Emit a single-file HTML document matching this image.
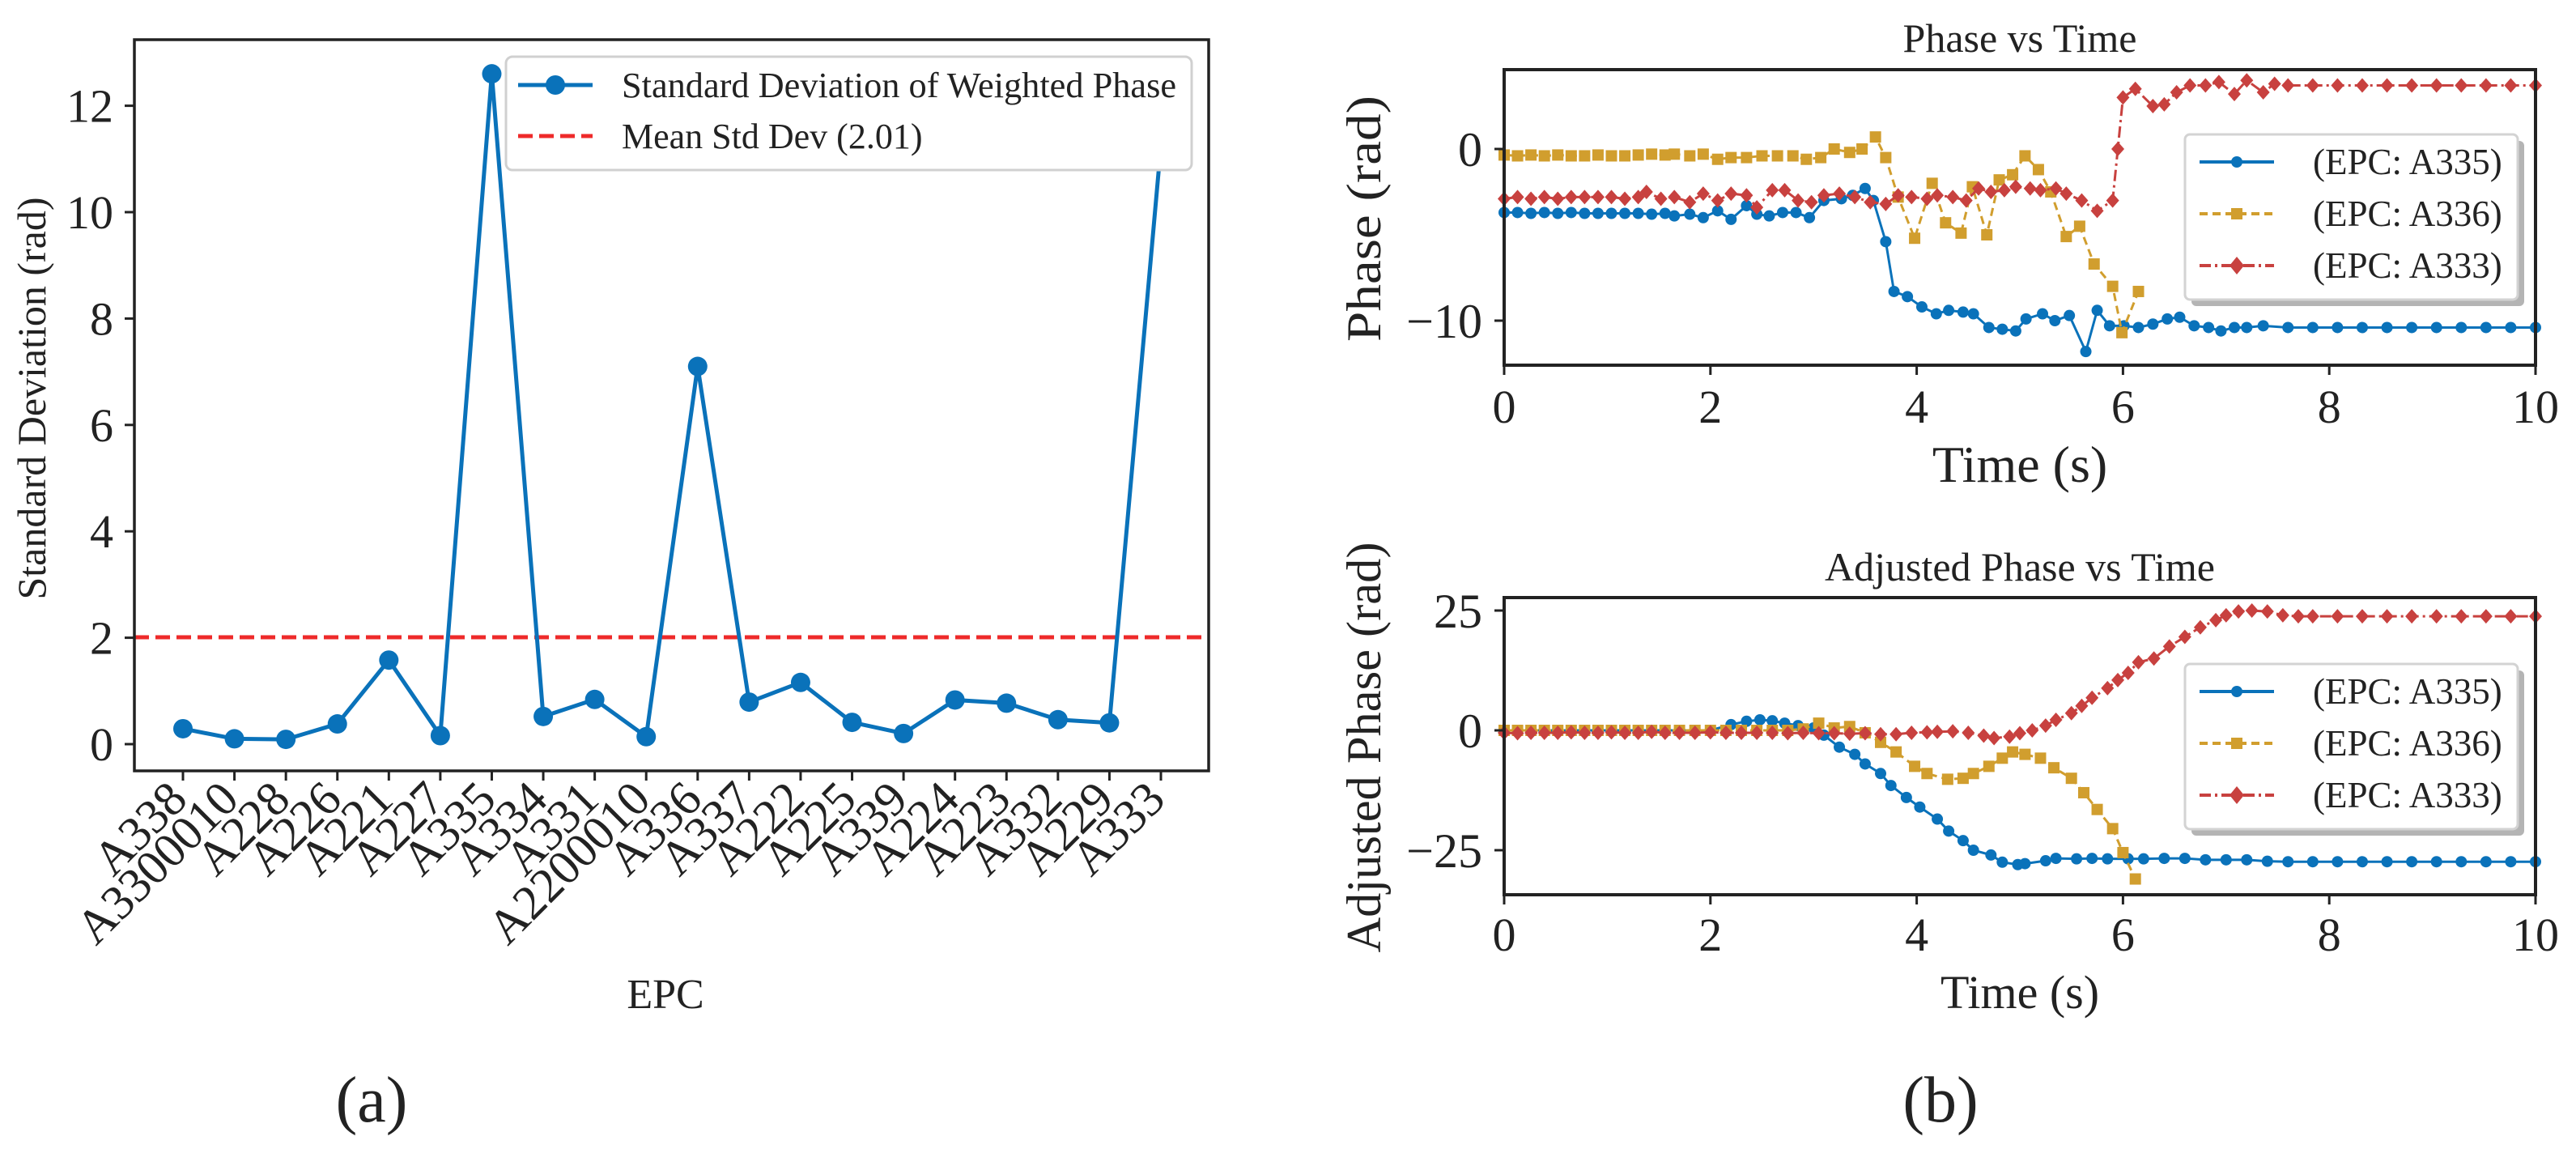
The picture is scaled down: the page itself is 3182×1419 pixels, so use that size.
<!DOCTYPE html>
<html><head><meta charset="utf-8"><style>
html,body{margin:0;padding:0;background:#fff;}
svg{display:block;font-family:"Liberation Serif",serif;}
</style></head><body>
<svg id="fig" width="3182" height="1419" viewBox="0 0 3182 1419" xmlns="http://www.w3.org/2000/svg"></svg>
<script>
// ---------- Panel (a) data ----------
const epcLabels = ["A338","A3300010","A228","A226","A221","A227","A335","A334","A331","A2200010","A336","A337","A222","A225","A339","A224","A223","A332","A229","A333"];
const stdValues = [0.29,0.10,0.09,0.38,1.58,0.16,12.6,0.52,0.84,0.14,7.1,0.79,1.16,0.41,0.20,0.83,0.77,0.46,0.40,11.25];
const meanStd = 2.01;
const stdTicks = [0,2,4,6,8,10,12];
// ---------- Panel (b) top data ----------
const timeTicks = [0,2,4,6,8,10];
const phaseTicks = [0,-10];
const adjTicks = [25,0,-25];
const tA335 = [0,0.13,0.26,0.39,0.52,0.65,0.78,0.91,1.04,1.17,1.3,1.43,1.56,1.65,1.8,1.93,2.07,2.2,2.35,2.45,2.57,2.7,2.83,2.96,3.1,3.27,3.38,3.5,3.58,3.7,3.78,3.91,4.05,4.19,4.31,4.45,4.55,4.7,4.83,4.96,5.06,5.22,5.34,5.48,5.64,5.75,5.87,6.01,6.15,6.29,6.43,6.55,6.69,6.83,6.95,7.08,7.2,7.36,7.6,7.84,8.08,8.32,8.56,8.8,9.04,9.28,9.52,9.76,10.0];
const pA335 = [-3.7,-3.7,-3.75,-3.7,-3.75,-3.7,-3.75,-3.75,-3.75,-3.75,-3.75,-3.8,-3.75,-3.9,-3.8,-4.0,-3.6,-4.1,-3.3,-3.8,-3.9,-3.7,-3.7,-4.0,-3.0,-2.9,-2.7,-2.3,-3.0,-5.4,-8.3,-8.6,-9.2,-9.6,-9.4,-9.5,-9.6,-10.4,-10.5,-10.6,-9.9,-9.6,-10.0,-9.7,-11.8,-9.4,-10.3,-10.3,-10.4,-10.2,-9.9,-9.8,-10.3,-10.4,-10.6,-10.4,-10.4,-10.3,-10.4,-10.4,-10.4,-10.4,-10.4,-10.4,-10.4,-10.4,-10.4,-10.4,-10.4];
const tA336 = [0,0.13,0.26,0.39,0.52,0.65,0.78,0.91,1.04,1.17,1.3,1.43,1.56,1.65,1.8,1.93,2.07,2.2,2.35,2.5,2.65,2.8,2.93,3.07,3.2,3.35,3.47,3.6,3.7,3.82,3.98,4.15,4.28,4.43,4.54,4.68,4.8,4.93,5.05,5.18,5.3,5.45,5.58,5.72,5.9,5.99,6.15];
const pA336 = [-0.35,-0.4,-0.35,-0.4,-0.35,-0.4,-0.4,-0.35,-0.4,-0.4,-0.35,-0.3,-0.35,-0.3,-0.4,-0.3,-0.6,-0.5,-0.5,-0.4,-0.4,-0.4,-0.6,-0.5,0.0,-0.2,0.0,0.7,-0.5,-2.8,-5.2,-2.0,-4.3,-4.9,-2.2,-5.0,-1.8,-1.5,-0.4,-1.2,-2.5,-5.1,-4.5,-6.7,-8.0,-10.7,-8.3];
const tA333 = [0,0.13,0.26,0.39,0.52,0.65,0.78,0.91,1.04,1.17,1.3,1.38,1.52,1.65,1.8,1.93,2.07,2.2,2.35,2.45,2.6,2.72,2.85,2.98,3.1,3.25,3.4,3.55,3.7,3.82,3.95,4.1,4.2,4.35,4.48,4.6,4.72,4.85,4.96,5.1,5.2,5.35,5.45,5.6,5.75,5.9,5.95,6.0,6.12,6.29,6.4,6.52,6.65,6.8,6.93,7.08,7.2,7.36,7.47,7.6,7.84,8.08,8.32,8.56,8.8,9.04,9.28,9.52,9.76,10.0];
const pA333 = [-2.9,-2.8,-2.9,-2.8,-2.9,-2.8,-2.8,-2.8,-2.8,-2.9,-2.8,-2.5,-2.9,-2.8,-3.1,-2.6,-3.0,-2.6,-2.7,-3.4,-2.4,-2.4,-3.0,-3.1,-2.7,-2.6,-2.8,-3.1,-3.2,-2.7,-2.8,-2.9,-2.7,-2.8,-3.0,-2.3,-2.5,-2.4,-2.2,-2.3,-2.4,-2.3,-2.6,-3.0,-3.6,-3.0,0.0,3.0,3.5,2.5,2.6,3.3,3.7,3.7,3.9,3.2,4.0,3.3,3.8,3.7,3.7,3.7,3.7,3.7,3.7,3.7,3.7,3.7,3.7,3.7];
// ---------- Panel (b) bottom data ----------
const tAdj335 = [0,0.13,0.26,0.39,0.52,0.65,0.78,0.91,1.04,1.17,1.3,1.43,1.56,1.7,1.85,2.0,2.2,2.35,2.48,2.6,2.72,2.85,3.0,3.1,3.25,3.4,3.5,3.65,3.75,3.9,4.03,4.2,4.31,4.45,4.55,4.72,4.83,4.98,5.05,5.25,5.35,5.55,5.7,5.85,6.05,6.2,6.4,6.6,6.8,7.0,7.2,7.4,7.6,7.84,8.08,8.32,8.56,8.8,9.04,9.28,9.52,9.76,10.0];
const aA335 = [0,0,0,0,0,0,0,0,0,0,0,0,0,0,0,0,1.2,1.9,2.2,2.0,1.5,1.0,0.5,-1.0,-3.5,-5,-7,-9,-11.5,-14,-16,-18.5,-21,-23,-25,-26,-27.5,-28,-27.8,-27.2,-26.7,-26.8,-26.7,-26.8,-26.8,-26.8,-26.7,-26.7,-27.0,-27.0,-27.0,-27.3,-27.4,-27.4,-27.4,-27.4,-27.4,-27.4,-27.4,-27.4,-27.4,-27.4,-27.4];
const tAdj336 = [0,0.13,0.26,0.39,0.52,0.65,0.78,0.91,1.04,1.17,1.3,1.43,1.56,1.7,1.85,2.0,2.15,2.3,2.45,2.6,2.75,2.9,3.05,3.2,3.35,3.5,3.65,3.8,3.98,4.1,4.3,4.45,4.55,4.7,4.83,4.93,5.05,5.2,5.33,5.5,5.62,5.75,5.9,6.0,6.12];
const aA336 = [0,0,0,0,0,0,0,0,0,0,0,0,0,0,0,0,0,0,0,0,0,0.3,1.5,0.5,0.8,-0.5,-2.5,-4.5,-7.5,-9.0,-10.2,-10,-9,-7.5,-5.8,-4.5,-5.0,-5.8,-7.8,-10,-13,-16.5,-20.5,-25.5,-31];
const tAdj333 = [0,0.13,0.26,0.39,0.52,0.65,0.78,0.91,1.04,1.17,1.3,1.43,1.56,1.7,1.85,2.0,2.15,2.3,2.45,2.6,2.75,2.9,3.05,3.2,3.35,3.5,3.65,3.8,3.95,4.1,4.2,4.35,4.5,4.65,4.75,4.9,5.0,5.12,5.25,5.35,5.5,5.6,5.7,5.85,5.95,6.05,6.15,6.3,6.45,6.6,6.75,6.9,7.0,7.12,7.25,7.4,7.55,7.7,7.84,8.08,8.32,8.56,8.8,9.04,9.28,9.52,9.76,10.0];
const aA333 = [-0.5,-0.6,-0.5,-0.5,-0.5,-0.4,-0.5,-0.5,-0.4,-0.5,-0.5,-0.3,-0.5,-0.5,-0.5,-0.4,-0.5,-0.5,-0.5,-0.5,-0.6,-0.5,-0.6,-0.6,-0.7,-0.6,-0.8,-0.8,-0.5,-0.4,-0.3,-0.2,-0.5,-1.1,-1.6,-1.3,-0.6,0,1,2.2,3.6,5.1,6.8,8.8,10.5,12,14.2,15,17.5,19.5,21.5,23,24,24.8,25,24.8,24,23.8,23.8,23.8,23.8,23.8,23.8,23.8,23.8,23.8,23.8,23.8];

const NS="http://www.w3.org/2000/svg";
const svg=document.getElementById('fig');
function mk(tag,attrs,parent){const e=document.createElementNS(NS,tag);for(const k in attrs)e.setAttribute(k,attrs[k]);(parent||svg).appendChild(e);return e;}
function txt(s,attrs,parent){const e=mk('text',attrs,parent);e.textContent=s;return e;}
const BLUE="#0a72ba",GOLD="#d19e2e",RED="#c8413f";

// ================= Panel (a) =================
const A={x0:166,x1:1493,y0:49,y1:952};
const ay=v=>919-v*65.7;
const ax=i=>226+i*(1434-226)/19;
const ga=mk('g',{});


const ml=mk('line',{x1:A.x0,x2:A.x1,y1:ay(meanStd),y2:ay(meanStd),stroke:"#ee2a2a","stroke-width":5,"stroke-dasharray":"18,8"},ga);


const pl=mk('polyline',{points:stdValues.map((v,i)=>ax(i)+","+ay(v)).join(" "),fill:"none",stroke:BLUE,"stroke-width":5},ga);


stdValues.forEach((v,i)=>{
  const c=mk('circle',{cx:ax(i),cy:ay(v),r:12,fill:i===stdValues.length-1?"#c9d6ec":BLUE},ga);
  
  
});
mk('rect',{x:A.x0,y:A.y0,width:A.x1-A.x0,height:A.y1-A.y0,fill:"none",stroke:"#222","stroke-width":3.5},ga);
stdTicks.forEach(t=>{
  mk('line',{x1:A.x0-12,x2:A.x0,y1:ay(t),y2:ay(t),stroke:"#222","stroke-width":3},ga);
  const l=txt(String(t),{x:140,y:ay(t)+20,"text-anchor":"end","font-size":58,fill:"#222"},ga);
  
  
});
epcLabels.forEach((s,i)=>{
  mk('line',{x1:ax(i),x2:ax(i),y1:A.y1,y2:A.y1+12,stroke:"#222","stroke-width":3},ga);
  const l=txt(s,{x:0,y:0,"text-anchor":"end","font-size":60,fill:"#222",transform:`translate(${ax(i)+8},${A.y1+38}) rotate(-45)`},ga);
  
  
});
const yl=txt("Standard Deviation (rad)",{x:0,y:0,"text-anchor":"middle","font-size":50,fill:"#222",transform:"translate(56,492) rotate(-90)"},ga);


const xl=txt("EPC",{x:822,y:1245,"text-anchor":"middle","font-size":52,fill:"#222"},ga);


const lg=mk('g',{},ga);


mk('rect',{x:625,y:70,width:847,height:140,rx:8,fill:"#fff",stroke:"#d0d0d0","stroke-width":3},lg);
mk('line',{x1:640,x2:732,y1:105,y2:105,stroke:BLUE,"stroke-width":5},lg);
mk('circle',{cx:686,cy:105,r:12,fill:BLUE},lg);
const le1=txt("Standard Deviation of Weighted Phase",{x:768,y:120,"font-size":44,fill:"#222",textLength:685,lengthAdjust:"spacingAndGlyphs"},lg);


mk('line',{x1:640,x2:732,y1:168,y2:168,stroke:"#ee2a2a","stroke-width":5,"stroke-dasharray":"18,8"},lg);
const le2=txt("Mean Std Dev (2.01)",{x:768,y:183,"font-size":44,fill:"#222"},lg);


const pa=txt("(a)",{x:459,y:1385,"text-anchor":"middle","font-size":80,fill:"#222"});



// ================= Panel (b) =================
const BX0=1858,BX1=3132;
const bx=t=>BX0+t*(BX1-BX0)/10;
function marker(g,type,x,y,color){
  if(type==='o')return mk('circle',{cx:x,cy:y,r:7,fill:color},g);
  if(type==='s')return mk('rect',{x:x-7,y:y-7,width:14,height:14,fill:color},g);
  return mk('polygon',{points:`${x},${y-9} ${x+8},${y} ${x},${y+9} ${x-8},${y}`,fill:color},g);
}
const seriesStyle=[{c:BLUE,m:'o',d:null,n:'a335'},{c:GOLD,m:'s',d:"10,6",n:'a336'},{c:RED,m:'d',d:"14,5,3,5",n:'a333'}];
function subplot(cfg){
  const g=mk('g',{});
  
  
  const yf=v=>cfg.yz-v*cfg.k;
  cfg.series.forEach((s,si)=>{
    const st=seriesStyle[si];
    const sg=mk('g',{},g);
    
    
    const a={points:s.t.map((t,i)=>bx(t)+","+yf(s.v[i])).join(" "),fill:"none",stroke:st.c,"stroke-width":3};
    if(st.d)a["stroke-dasharray"]=st.d;
    mk('polyline',a,sg);
    s.t.forEach((t,i)=>{const m=marker(sg,st.m,bx(t),yf(s.v[i]),st.c);
      
      });
  });
  mk('rect',{x:BX0,y:cfg.top,width:BX1-BX0,height:cfg.bot-cfg.top,fill:"none",stroke:"#222","stroke-width":4},g);
  timeTicks.forEach(t=>{
    mk('line',{x1:bx(t),x2:bx(t),y1:cfg.bot,y2:cfg.bot+12,stroke:"#222","stroke-width":3},g);
    const l=txt(String(t),{x:bx(t),y:cfg.xtY,"text-anchor":"middle","font-size":58,fill:"#222"},g);
    
    
  });
  cfg.yticks.forEach(t=>{
    mk('line',{x1:BX0-12,x2:BX0,y1:yf(t),y2:yf(t),stroke:"#222","stroke-width":3},g);
    const l=txt(t<0?"\u2212"+Math.abs(t):String(t),{x:1831,y:yf(t)+21,"text-anchor":"end","font-size":60,fill:"#222"},g);
    
    
  });
  const ti=txt(cfg.title,{x:2495,y:cfg.titleY,"text-anchor":"middle","font-size":50,fill:"#222"},g);
  
  
  const xt=txt("Time (s)",{x:2495,y:cfg.xlY,"text-anchor":"middle","font-size":cfg.xlSize,fill:"#222"},g);
  
  
  const yt=txt(cfg.ylabel,{x:0,y:0,"text-anchor":"middle","font-size":60,fill:"#222",transform:`translate(1705,${cfg.ylC}) rotate(-90)`,textLength:cfg.ylLen,lengthAdjust:"spacingAndGlyphs"},g);
  
  
  const L=mk('g',{},g);
  
  
  mk('rect',{x:2707,y:cfg.lgTop+8,width:411,height:204,rx:6,fill:"#b4b4b4"},L);
  mk('rect',{x:2699,y:cfg.lgTop,width:411,height:204,rx:6,fill:"#fff",stroke:"#d3d3d3","stroke-width":3},L);
  ["(EPC: A335)","(EPC: A336)","(EPC: A333)"].forEach((s,i)=>{
    const st=seriesStyle[i];const y=cfg.lgTop+34+i*64;
    const a={x1:2717,x2:2809,y1:y,y2:y,stroke:st.c,"stroke-width":4};
    if(st.d)a["stroke-dasharray"]=st.d;
    mk('line',a,L);
    if(st.m==='d')mk('polygon',{points:`2763,${y-11} 2772,${y} 2763,${y+11} 2754,${y}`,fill:st.c},L);
    else marker(L,st.m,2763,y,st.c);
    const e=txt(s,{x:2857,y:y+15,"font-size":45,fill:"#222"},L);
    
    
  });
}
subplot({name:'phase-vs-time-chart',top:86,bot:451,yz:184,k:21.2,yticks:phaseTicks,title:"Phase vs Time",titleY:64,xtY:522,xlY:595,xlSize:64,ylabel:"Phase (rad)",ylC:270,ylLen:304,lgTop:166,
  series:[{t:tA335,v:pA335},{t:tA336,v:pA336},{t:tA333,v:pA333}]});
subplot({name:'adjusted-phase-chart',top:738,bot:1105,yz:902,k:5.92,yticks:adjTicks,title:"Adjusted Phase vs Time",titleY:717,xtY:1174,xlY:1245,xlSize:58,ylabel:"Adjusted Phase (rad)",ylC:923,ylLen:507,lgTop:820,
  series:[{t:tAdj335,v:aA335},{t:tAdj336,v:aA336},{t:tAdj333,v:aA333}]});
const pb=txt("(b)",{x:2397,y:1385,"text-anchor":"middle","font-size":80,fill:"#222"});


</script>
</body></html>
